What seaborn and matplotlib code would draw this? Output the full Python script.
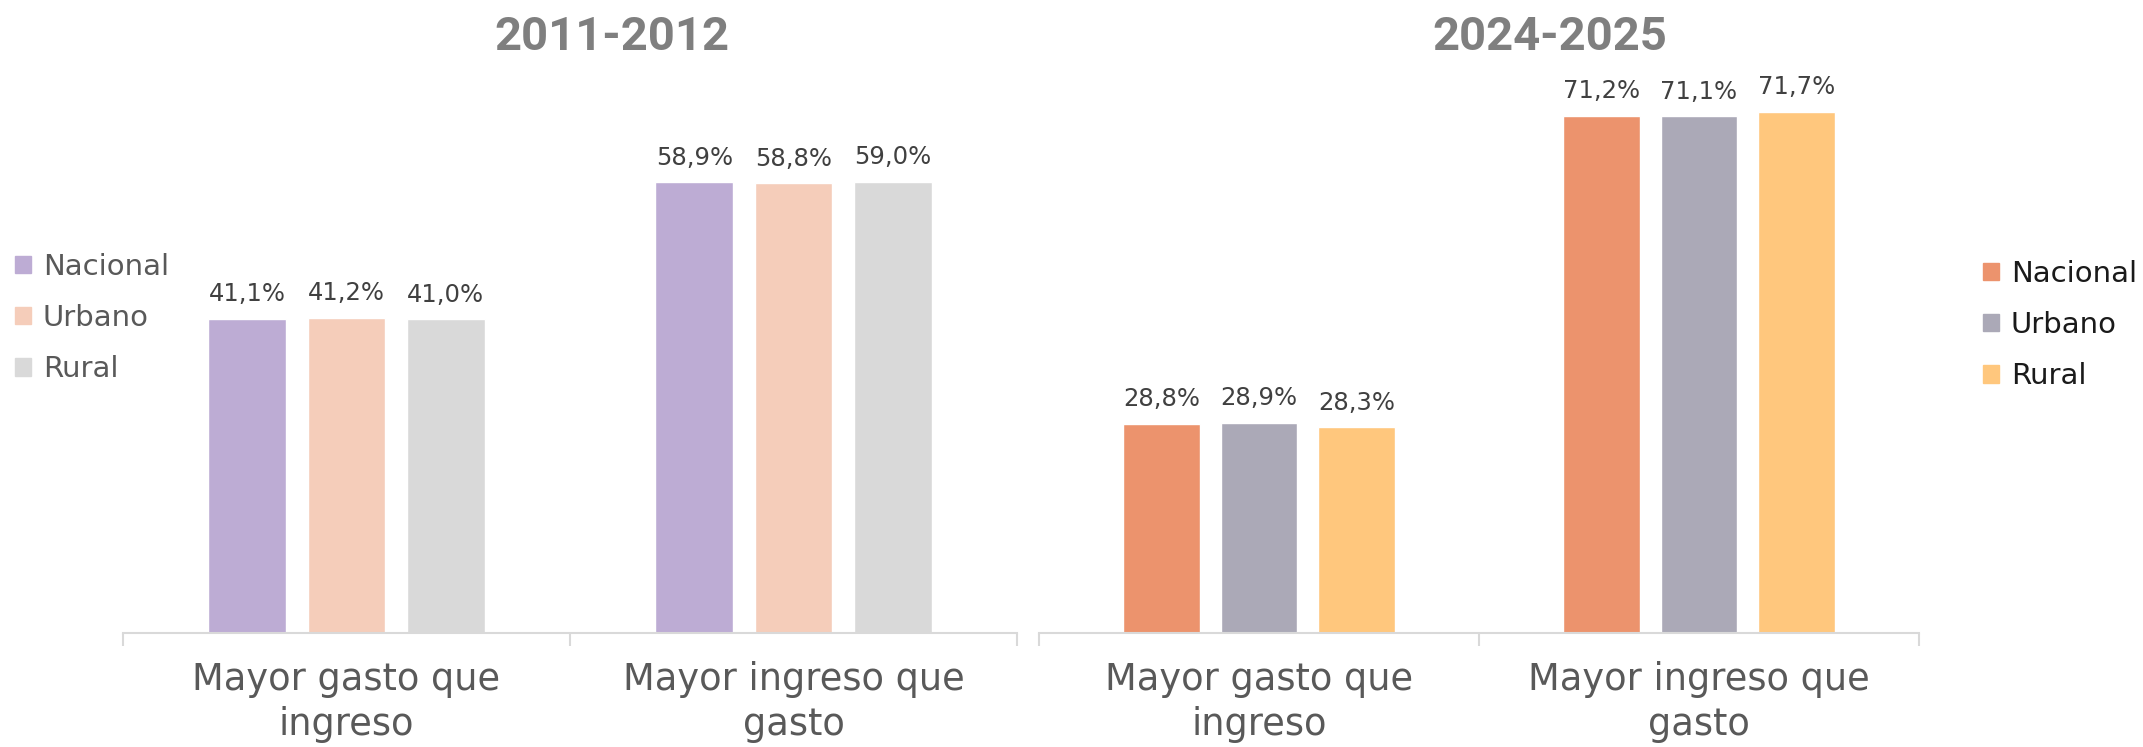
import matplotlib
matplotlib.use("Agg")
import matplotlib.pyplot as plt
import matplotlib.patches as mpatches
import seaborn as sns
import pandas as pd

categories = ["Mayor gasto que\ningreso", "Mayor ingreso que\ngasto"]
areas = ["Nacional", "Urbano", "Rural"]
values_2011 = {"Nacional": [41.1, 58.9], "Urbano": [41.2, 58.8], "Rural": [41.0, 59.0]}
values_2024 = {"Nacional": [28.8, 71.2], "Urbano": [28.9, 71.1], "Rural": [28.3, 71.7]}
titles = ["2011-2012", "2024-2025"]

colors_2011 = ["#BDACD4", "#F5CDBA", "#D9D9D9"]
colors_2024 = ["#EC936D", "#ABA9B7", "#FFC77D"]

sns.set_theme(style="white")
plt.rcParams["font.family"] = ["DejaVu Sans"]

fig = plt.figure(figsize=(21.43, 7.47), dpi=100)

def make_df(vals):
    rows = []
    for a in areas:
        for c, v in zip(categories, vals[a]):
            rows.append({"cat": c, "area": a, "val": v})
    return pd.DataFrame(rows)

axes_specs = [
    (values_2011, colors_2011, [123 / 2143, 114 / 747, 894 / 2143, 0.72], 70.3),
    (values_2024, colors_2024, [1039 / 2143, 114 / 747, 880 / 2143, 0.72], 74.0),
]

axs = []
for vals, cols, rect, ytop in axes_specs:
    ax = fig.add_axes(rect)
    df = make_df(vals)
    sns.barplot(data=df, x="cat", y="val", hue="area", hue_order=areas,
                palette=cols, width=0.666, gap=0.216, ax=ax, legend=False,
                saturation=1, errorbar=None)
    ax.set_ylim(0, ytop)
    ax.set_xlim(-0.5, 1.5)
    for sp in ["top", "right", "left"]:
        ax.spines[sp].set_visible(False)
    ax.spines["bottom"].set_color("#D9D9D9")
    ax.spines["bottom"].set_linewidth(1.5)
    ax.set_yticks([])
    ax.set_xlabel("")
    ax.set_ylabel("")
    ax.set_xticks([0, 1])
    ax.set_xticklabels(categories, fontsize=26.5, color="#595959", linespacing=1.3)
    ax.tick_params(axis="x", which="major", length=0, pad=20)
    ax.set_xticks([-0.5, 0.5, 1.5], minor=True)
    ax.tick_params(axis="x", which="minor", length=9, width=1.5, color="#D9D9D9",
                   bottom=True)
    for cont in ax.containers:
        labs = [f"{b.get_height():.1f}%".replace(".", ",") for b in cont]
        ax.bar_label(cont, labels=labs, padding=9, fontsize=17.5, color="#404040")
    axs.append(ax)

fig.text(612 / 2143, 1 - 37 / 747, titles[0], ha="center", va="center",
         fontsize=34, fontweight="bold", color="#7F7F7F", family="Roboto")
fig.text(1550 / 2143, 1 - 37 / 747, titles[1], ha="center", va="center",
         fontsize=34, fontweight="bold", color="#7F7F7F", family="Roboto")

def add_legend(cols, x, y, tcolor):
    handles = [mpatches.Patch(color=c, label=a) for c, a in zip(cols, areas)]
    leg = fig.legend(handles=handles, loc="center left", bbox_to_anchor=(x, y),
                     bbox_transform=fig.transFigure, frameon=False, fontsize=21,
                     handlelength=0.55, handleheight=0.55, handletextpad=0.4,
                     labelspacing=0.8, borderpad=0, borderaxespad=0)
    for t in leg.get_texts():
        t.set_color(tcolor)
    return leg

add_legend(colors_2011, 15 / 2143, 1 - 318 / 747, "#595959")
add_legend(colors_2024, 1983 / 2143, 1 - 325 / 747, "#1A1A1A")

fig.savefig("out.png", dpi=100)
